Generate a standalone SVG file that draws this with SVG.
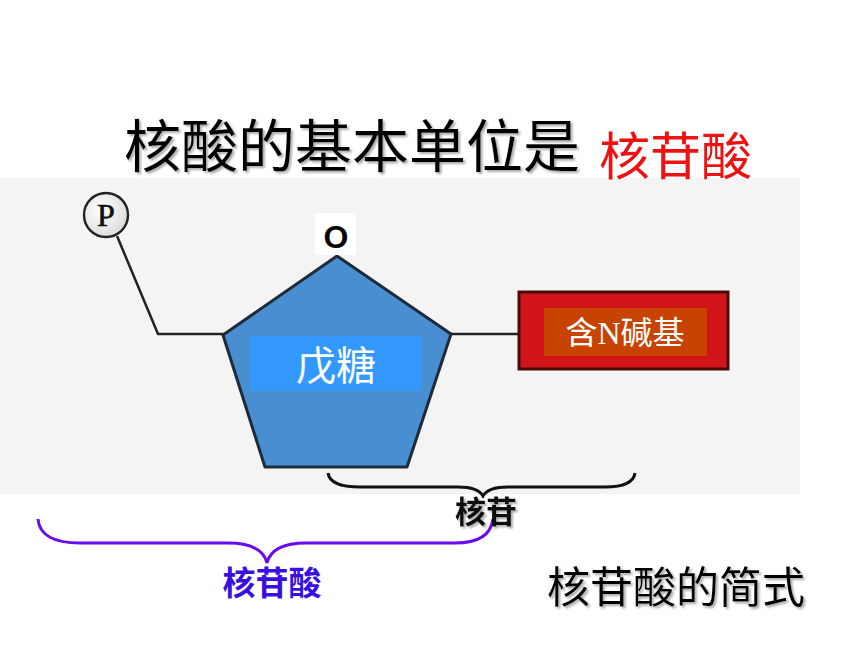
<svg xmlns="http://www.w3.org/2000/svg" width="860" height="645" viewBox="0 0 860 645">
<defs>
<style>
.cjk{font-family:"Noto Sans CJK SC","Noto Sans",sans-serif}
.ser{font-family:"Liberation Serif","Noto Sans CJK SC",serif}
.edge{fill:none;stroke:#222;stroke-width:2.5}
</style>
<filter id="sh" x="-10%" y="-10%" width="120%" height="130%">
<feDropShadow dx="2" dy="2" stdDeviation="1" flood-color="#888" flood-opacity="0.7"/>
</filter>
<radialGradient id="pg" cx="0.4" cy="0.4" r="0.7">
<stop offset="0" stop-color="#ffffff"/>
<stop offset="1" stop-color="#d8d8d8"/>
</radialGradient>
</defs>
<rect width="860" height="645" fill="#ffffff"/>
<rect x="0" y="178" width="800" height="316" fill="#f4f4f4"/>

<g id="title">
<text x="124" y="167" font-size="57" class="cjk" fill="#000" filter="url(#sh)">核酸的基本单位是</text>
<text x="599" y="175" font-size="51" class="cjk" fill="#ee1111">核苷酸</text>
</g>

<g id="connectors">
<polyline class="edge" points="117,236 158,334 225,334"/>
<line class="edge" x1="450" y1="334" x2="519" y2="334"/>
<path d="M328,473 Q330,487 360,487 L458,487 Q478,487 483,496 Q488,487 508,487 L605,487 Q633,487 635,473" fill="none" stroke="#111" stroke-width="3"/>
<path d="M38,519 Q40,543 80,543 L228,543 Q262,543 267,563 Q272,543 306,543 L455,543 Q490,543 493,519" fill="none" stroke="#6a0af0" stroke-width="3"/>
</g>

<g id="phosphate">
<circle cx="106" cy="215" r="22" fill="url(#pg)" stroke="#222" stroke-width="2.4"/>
<text x="106" y="226" font-size="32" class="ser" text-anchor="middle" fill="#111" stroke="#111" stroke-width="0.6">P</text>
</g>

<g id="sugar">
<polygon points="337,256 451,334 407,467 265,467 223,335" fill="#4a8ed2" stroke="#1d2b3a" stroke-width="3" stroke-linejoin="round"/>
<rect x="315" y="213" width="41" height="42" fill="#ffffff"/>
<text x="336" y="248" font-size="32" font-family="Liberation Sans,Arial,sans-serif" font-weight="bold" text-anchor="middle" fill="#000">O</text>
<rect x="250" y="336" width="171" height="55" fill="#3399ff"/>
<text x="336" y="380" font-size="40" class="ser" text-anchor="middle" fill="#ffffff">戊糖</text>
</g>

<g id="base">
<rect x="519" y="292" width="209" height="77" fill="#d0141a" stroke="#4a0a0a" stroke-width="3"/>
<rect x="544" y="308" width="163" height="48" fill="#c84200"/>
<text x="625" y="344" font-size="32" class="ser" text-anchor="middle" fill="#ffffff">含N碱基</text>
</g>

<g id="nucleoside-label">
<text x="486" y="523" font-size="31" class="cjk" font-weight="bold" text-anchor="middle" fill="#111" filter="url(#sh)">核苷</text>
</g>

<g id="nucleotide-label">
<text x="272" y="595" font-size="33" class="cjk" font-weight="bold" text-anchor="middle" fill="#3a10e0">核苷酸</text>
</g>

<g id="caption">
<text x="547" y="603" font-size="43" class="cjk" fill="#000" filter="url(#sh)">核苷酸的简式</text>
</g>
</svg>
